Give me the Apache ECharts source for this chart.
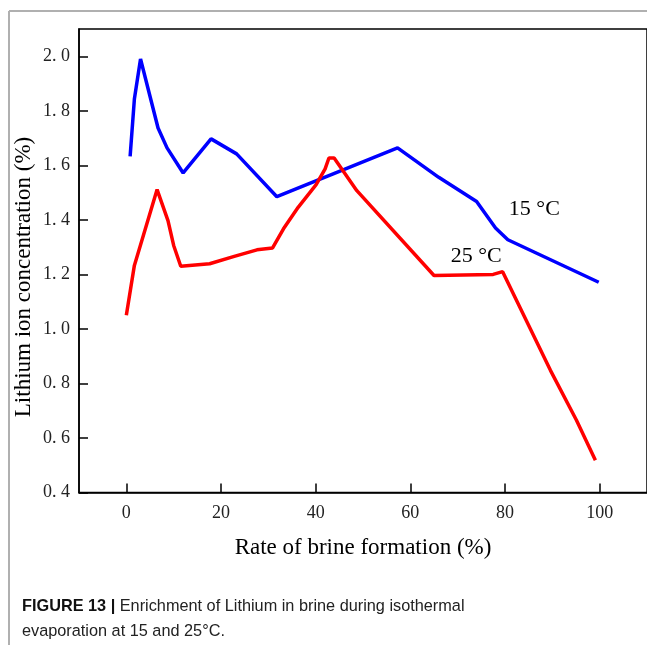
<!DOCTYPE html>
<html>
<head>
<meta charset="utf-8">
<script src="https://cdn.jsdelivr.net/npm/echarts@6/dist/echarts.min.js"></script>
<style>
html,body{margin:0;padding:0;background:#fff;}
#chart{width:647px;height:645px;}
</style>
</head>
<body>
<div id="chart"></div>
<script>
// 15 °C series: [rate of brine formation (%), Li concentration (%)]
const rate15 = [0.8, 1.7, 3.0, 6.7, 8.6, 12.0, 17.9, 23.3, 31.8, 57.3, 66.0, 74.0, 78.0, 80.6, 99.8];
const li15   = [1.633, 1.843, 1.99, 1.737, 1.664, 1.572, 1.697, 1.642, 1.485, 1.664, 1.556, 1.467, 1.37, 1.327, 1.171];
// 25 °C series
const rate25 = [0.0, 1.7, 6.5, 8.8, 10.0, 11.5, 17.6, 22.8, 27.6, 30.9, 33.2, 36.3, 40.1, 42.0, 42.8, 43.9, 48.7, 65.0, 77.5, 79.5, 89.6, 95.1, 99.1];
const li25   = [1.05, 1.233, 1.511, 1.397, 1.306, 1.23, 1.239, 1.266, 1.29, 1.297, 1.367, 1.446, 1.529, 1.587, 1.627, 1.627, 1.507, 1.196, 1.2, 1.21, 0.848, 0.665, 0.518];
const xTicks = [0, 20, 40, 60, 80, 100];
const yTicks = [0.4, 0.6, 0.8, 1.0, 1.2, 1.4, 1.6, 1.8, 2.0];
const seriesNames = ['15 °C', '25 °C'];
const labelPos15 = [86.2, 1.44];
const labelPos25 = [73.9, 1.268];

const pair = (xs, ys) => xs.map((x, i) => [x, ys[i]]);
const serif = '"Liberation Serif", "Times New Roman", serif';
const sans = '"Liberation Sans", Arial, sans-serif';

const markLabel = (pos, name) => ({
  symbol: 'circle', symbolSize: 1, silent: true,
  itemStyle: {color: 'rgba(0,0,0,0)'},
  data: [{coord: pos, value: name}],
  label: {show: true, position: 'inside', formatter: name, fontFamily: serif, fontSize: 22, color: '#000'}
});

const chart = echarts.init(document.getElementById('chart'), null, {renderer: 'canvas'});
chart.setOption({
  animation: false,
  backgroundColor: '#fff',
  grid: {left: 79, top: 29, bottom: 152.5, right: -9.6, show: true, borderColor: '#000', borderWidth: 1.5, backgroundColor: 'transparent'},
  xAxis: {
    type: 'value', min: -10, max: 110,
    name: 'Rate of brine formation (%)', nameLocation: 'middle', nameGap: 44,
    nameTextStyle: {fontFamily: serif, fontSize: 23, color: '#000'},
    axisLine: {onZero: false, lineStyle: {color: '#000', width: 1.5}},
    axisTick: {inside: true, length: 9, lineStyle: {color: '#000', width: 1.5}, customValues: xTicks},
    axisLabel: {customValues: xTicks, fontFamily: serif, fontSize: 18, color: '#222', margin: 12},
    splitLine: {show: false}
  },
  yAxis: {
    type: 'value', min: 0.4, max: 2.1,
    axisLine: {onZero: false, lineStyle: {color: '#000', width: 1.5}},
    axisTick: {inside: true, length: 9, lineStyle: {color: '#000', width: 1.5}, customValues: yTicks},
    axisLabel: {customValues: yTicks, fontFamily: serif, fontSize: 18, color: '#222', margin: 9,
      formatter: v => v.toFixed(1).replace('.', '. ')},
    splitLine: {show: false}
  },
  series: [
    {name: seriesNames[0], type: 'line', data: pair(rate15, li15), symbol: 'none',
      lineStyle: {color: '#0000ff', width: 3.5}, itemStyle: {color: '#0000ff'},
      markPoint: markLabel(labelPos15, seriesNames[0])},
    {name: seriesNames[1], type: 'line', data: pair(rate25, li25), symbol: 'none',
      lineStyle: {color: '#ff0000', width: 3.5}, itemStyle: {color: '#ff0000'},
      markPoint: markLabel(labelPos25, seriesNames[1])}
  ],
  graphic: [
    {type: 'line', shape: {x1: 9, y1: 11, x2: 647, y2: 11}, style: {stroke: '#b0b0b0', lineWidth: 2}},
    {type: 'line', shape: {x1: 9, y1: 11, x2: 9, y2: 645}, style: {stroke: '#b0b0b0', lineWidth: 2}},
    {type: 'text', x: 24, y: 277, rotation: Math.PI / 2, style: {
      text: 'Lithium ion concentration (%)', fontFamily: serif, fontSize: 23, fill: '#000',
      align: 'center', verticalAlign: 'middle'}},
    {type: 'text', left: 22, top: 594, style: {
      text: '{b|FIGURE 13 |} Enrichment of Lithium in brine during isothermal\nevaporation at 15 and 25°C.',
      fontFamily: sans, fontSize: 16.3, lineHeight: 25, fill: '#222',
      rich: {b: {fontWeight: 'bold', fontFamily: sans, fontSize: 16.3, fill: '#111'}}
    }}
  ]
});
</script>
</body>
</html>
